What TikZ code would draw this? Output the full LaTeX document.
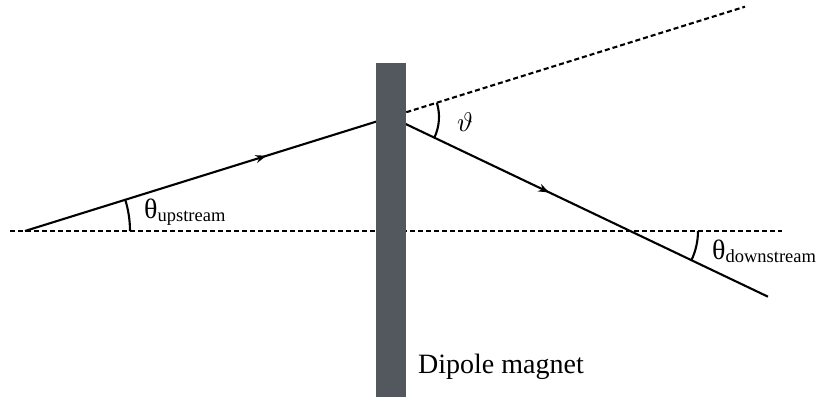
\documentclass[tikz,border=0pt]{standalone}
\usepackage{fontspec}
\setmainfont{Liberation Serif}
\usetikzlibrary{arrows.meta,decorations.markings}
\definecolor{magnetgray}{RGB}{83,87,94}
\tikzset{
  beam/.style={line width=2.1pt, black},
  guide/.style={line width=2.1pt, black, dash pattern=on 5pt off 3pt},
  anglearc/.style={line width=2.1pt, black},
  midarrow/.style={postaction={decorate},decoration={markings,mark=at position #1 with {\arrow{Stealth[length=11pt,width=8pt]}}}},
  lbl/.style={inner sep=0pt, font=\fontsize{28}{30}\selectfont}
}
\newcommand{\subtext}[1]{\raisebox{-3pt}{\fontsize{18.5}{20}\selectfont #1}}
\begin{document}
\begin{tikzpicture}[x=1pt,y=1pt]
\useasboundingbox (0,0) rectangle (825,401);
% key points
\coordinate (A) at (25,170);
\coordinate (M) at (391,284);
\coordinate (B) at (768,104.3);
\coordinate (D) at (745,394.3);
\coordinate (H1) at (10,170);
\coordinate (H2) at (782,170);
\coordinate (X) at (630,170);
% guides
\draw[guide] (H1) -- (H2);
\draw[guide] (M) -- (D);
% beams
\draw[beam, midarrow=0.66] (A) -- (M);
\draw[beam, midarrow=0.42] (M) -- (B);
% magnet
\node[fill=magnetgray, draw=none, minimum width=30pt, minimum height=334pt, inner sep=0pt, anchor=south west] (mag) at (376,4) {};
% angle arcs
\draw[anglearc] ([shift={(0:105)}]A) arc[start angle=0, end angle=17.3, radius=105];
\draw[anglearc] ([shift={(17.3:48)}]M) arc[start angle=17.3, end angle=-25.5, radius=48];
\draw[anglearc] ([shift={(0:68)}]X) arc[start angle=0, end angle=-25.5, radius=68];
% labels
\node[lbl, anchor=west] (tup) at (144,189) {θ\subtext{upstream}};
\node[inner sep=0pt, anchor=center] (vt) at (465,279) {\scalebox{2.7}{$\vartheta$}};
\node[lbl, anchor=west] (tdown) at (712,150) {θ\subtext{downstream}};
\node[lbl, anchor=base west] (dm) at (418,27) {Dipole magnet};
\end{tikzpicture}
\end{document}
